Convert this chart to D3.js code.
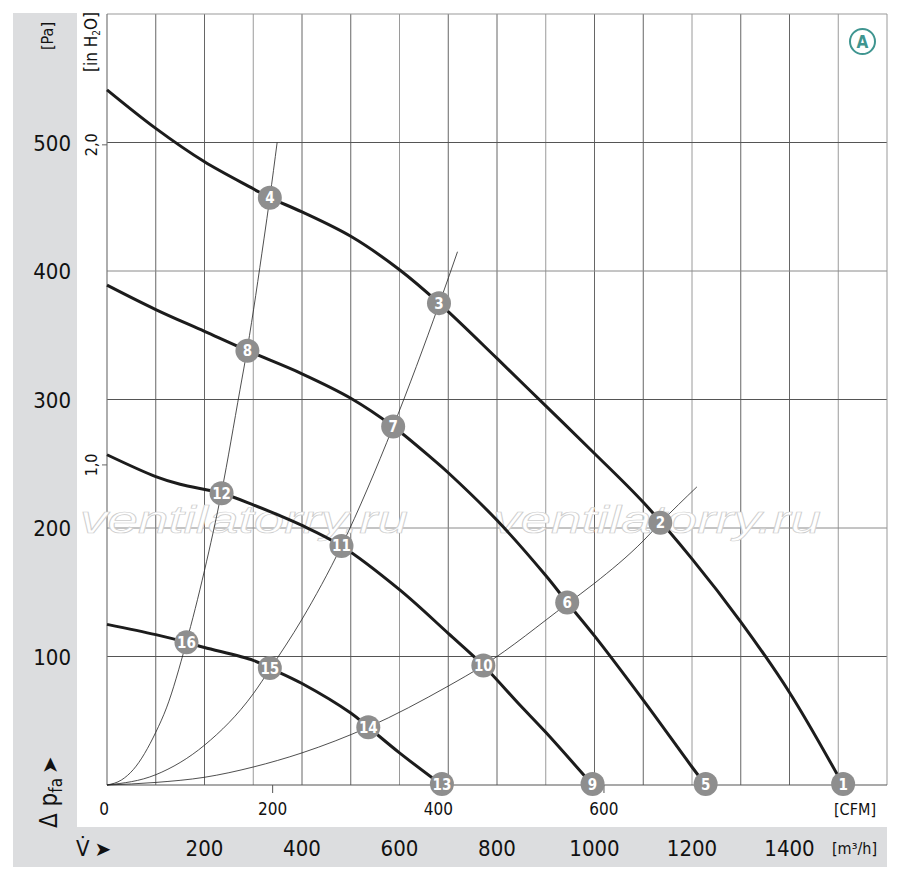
<!DOCTYPE html>
<html>
<head>
<meta charset="utf-8">
<script src="https://cdn.jsdelivr.net/npm/d3@7"></script>
<style>
  body { margin: 0; background: #fff; }
  svg text { font-family: "Liberation Sans Narrow", "DejaVu Sans Condensed", "Liberation Sans", sans-serif; }
</style>
</head>
<body>
<div id="chart"></div>
<script>
// fan curves, [m3/h, Pa]
var curve1 = [[0,541],[100,511],[200,485],[300,464],[334,457],[400,446],[500,427],[600,401],[681,375],[800,332],[900,295],[1000,258],[1100,220],[1200,176],[1300,127],[1400,72],[1510,0]];
var curve2 = [[0,389],[100,370],[200,353],[288,338],[400,320],[500,301],[587,279],[670,253],[700,243],[800,206],[900,163],[944,142],[1000,116],[1100,66],[1200,14],[1228,0]];
var curve3 = [[0,257],[100,240],[150,234],[235,227],[300,218],[400,202],[481,186],[600,152],[700,118],[772,93],[845,63],[900,41],[996,0]];
var curve4 = [[0,125],[100,117],[163,111],[200,107],[300,97],[334,91],[400,79],[500,56],[536,45],[600,25],[687,0]];

// system resistance curves
var sysA = [[0,0],[30,4],[54,12],[100,41],[122,60],[162,110],[200,167],[235,228],[273,308],[288,340],[322,425],[334,457],[349,500]];
var sysB = [[0,0],[100,8],[200,31],[300,71],[334,90],[400,129],[481,186],[587,279],[682,375],[719,415]];
var sysC = [[0,0],[100,2],[200,6],[300,14],[400,25],[536,45],[700,77],[772,93],[944,141],[1000,157],[1100,190],[1135,204],[1210,232]];

// numbered operating points
var pointIds = [1,2,3,4,5,6,7,8,9,10,11,12,13,14,15,16];
var pointFlow = [1510,1135,681,334,1228,944,587,288,996,772,481,235,687,536,334,163];
var pointPa   = [0,204,375,457,0,142,279,338,0,93,186,227,0,45,91,111];

var paTicks = [100,200,300,400,500];
var inchTicks = [1,2];
var inchLabels = ["1,0","2,0"];
var cfmTicks = [0,200,400,600];
var m3hTicks = [200,400,600,800,1000,1200,1400];

var W = 900, H = 877;
var svg = d3.select("#chart").append("svg").attr("width", W).attr("height", H);

var x = d3.scaleLinear().domain([0,1600]).range([107,887]);
var y = d3.scaleLinear().domain([0,600]).range([785,14]);
var xCfm = d3.scaleLinear().domain([0,1600/1.699]).range([107,887]);
var yIn = d3.scaleLinear().domain([0,600/249.09]).range([785,14]);

// grey bands
svg.append("rect").attr("x",13).attr("y",13).attr("width",64).attr("height",814).attr("fill","#dcdddf");
svg.append("rect").attr("x",13).attr("y",827).attr("width",874).attr("height",40).attr("fill","#dcdddf");

// grid
var grid = svg.append("g");
grid.selectAll(".vg").data(d3.range(100,1600,100)).enter().append("line")
    .attr("x1", d => x(d)).attr("x2", d => x(d))
    .attr("y1", y(600)).attr("y2", y(0))
    .attr("stroke", (d,i) => (i % 3 == 2) ? "#9a9a9a" : "#666")
    .attr("stroke-width", 1);
grid.selectAll(".hg").data(paTicks).enter().append("line")
    .attr("x1", x(0)).attr("x2", x(1600))
    .attr("y1", d => y(d)).attr("y2", d => y(d))
    .attr("stroke", (d,i) => (i % 2 == 1) ? "#8a8a8a" : "#555")
    .attr("stroke-width", 1);
// frame
grid.append("line").attr("x1",x(0)).attr("x2",x(1600)).attr("y1",y(600)).attr("y2",y(600)).attr("stroke","#999");
grid.append("line").attr("x1",x(1600)).attr("x2",x(1600)).attr("y1",y(600)).attr("y2",y(0)).attr("stroke","#999");
grid.append("line").attr("x1",x(0)).attr("x2",x(0)).attr("y1",y(600)).attr("y2",y(0)).attr("stroke","#777").attr("stroke-width",1.2);
grid.append("line").attr("x1",x(0)).attr("x2",x(1600)).attr("y1",y(0)).attr("y2",y(0)).attr("stroke","#555").attr("stroke-width",1.2);

// inch H2O ticks on left edge
grid.selectAll(".it").data(inchTicks).enter().append("line")
    .attr("x1", x(0)-5).attr("x2", x(0))
    .attr("y1", d => yIn(d)).attr("y2", d => yIn(d))
    .attr("stroke", "#666");
// CFM ticks below axis
grid.selectAll(".ct").data(cfmTicks.slice(1)).enter().append("line")
    .attr("x1", d => xCfm(d)).attr("x2", d => xCfm(d))
    .attr("y1", y(0)).attr("y2", y(0)+8)
    .attr("stroke", "#555");

// watermark
["ventilatorry.ru","ventilatorry.ru"].forEach(function(t, i){
    svg.append("text")
       .attr("x", i == 0 ? 80 : 493).attr("y", 533)
       .attr("textLength", 328).attr("lengthAdjust", "spacingAndGlyphs")
       .style("font-family", "'Liberation Sans', sans-serif")
       .style("font-style", "italic")
       .style("font-size", "38px")
       .attr("fill", "#fff").attr("stroke", "#cdcdcd").attr("stroke-width", 0.7)
       .text(t);
});

var fanLine = d3.line().x(d => x(d[0])).y(d => y(d[1])).curve(d3.curveCatmullRom.alpha(0.5));
var sysLine = d3.line().x(d => x(d[0])).y(d => y(d[1])).curve(d3.curveMonotoneX);

// system curves (thin)
[sysA, sysB, sysC].forEach(function(s){
    svg.append("path").attr("d", sysLine(s)).attr("fill","none")
       .attr("stroke","#222").attr("stroke-width",0.8);
});

// fan curves (thick)
[curve1, curve2, curve3, curve4].forEach(function(c){
    svg.append("path").attr("d", fanLine(c)).attr("fill","none")
       .attr("stroke","#1c1c1c").attr("stroke-width",3);
});

// numbered points
var pts = svg.selectAll(".pt").data(pointIds).enter().append("g")
    .attr("transform", (d,i) => "translate(" + x(pointFlow[i]) + "," + (y(pointPa[i]) - (pointPa[i] == 0 ? 1 : 0)) + ")");
pts.append("circle").attr("r", 12).attr("fill", "#8e8e8e");
pts.append("text").attr("text-anchor","middle").attr("y", 5.5)
   .attr("fill","#fff").style("font-size","15px").style("font-weight","bold")
   .text(d => d);

// Pa labels
svg.selectAll(".pal").data(paTicks).enter().append("text")
   .attr("x", 71).attr("y", d => y(d) + 8)
   .attr("text-anchor","end").style("font-size","22px")
   .attr("fill","#111").text(d => d);
svg.append("text").attr("transform","translate(53,36) rotate(-90)")
   .attr("text-anchor","middle").style("font-size","16px").attr("fill","#111").text("[Pa]");

// in H2O labels
svg.selectAll(".inl").data(inchTicks).enter().append("text")
   .attr("transform", d => "translate(97," + yIn(d) + ") rotate(-90)")
   .attr("text-anchor","middle").style("font-size","16px").attr("fill","#111")
   .text((d,i) => inchLabels[i]);
var inLab = svg.append("text").attr("transform","translate(97,72) rotate(-90)")
   .attr("text-anchor","start").style("font-size","17px").attr("fill","#111");
inLab.append("tspan").text("[in H");
inLab.append("tspan").attr("dy",3).style("font-size","10px").text("2");
inLab.append("tspan").attr("dy",-3).text("O]");

// delta p label
var dp = svg.append("text").attr("transform","translate(57,828) rotate(-90)")
   .style("font-size","24px").attr("fill","#111");
dp.append("tspan").text("Δ p");
dp.append("tspan").attr("dy",5).style("font-size","17px").text("fa");
dp.append("tspan").attr("dy",-5).attr("dx",4).style("font-family","'DejaVu Sans', sans-serif").style("font-size","21px").text("➤");

// CFM labels
svg.selectAll(".cfl").data(cfmTicks).enter().append("text")
   .attr("x", d => xCfm(d) - (d == 0 ? 3 : 0)).attr("y", 815)
   .attr("text-anchor","middle").style("font-size","17px").attr("fill","#111")
   .text(d => d);
svg.append("text").attr("x", 876).attr("y", 815).attr("text-anchor","end")
   .style("font-size","16px").attr("fill","#111").text("[CFM]");

// m3/h labels
svg.selectAll(".mhl").data(m3hTicks).enter().append("text")
   .attr("x", d => x(d)).attr("y", 856)
   .attr("text-anchor","middle").style("font-size","22px").attr("fill","#111")
   .text(d => d);
svg.append("text").attr("x", 877).attr("y", 854).attr("text-anchor","end")
   .style("font-size","16px").attr("fill","#111").text("[m³/h]");
var vl = svg.append("text").attr("x", 76).attr("y", 856).style("font-size","22px").attr("fill","#111");
vl.append("tspan").text("V̇");
vl.append("tspan").attr("dx",5).style("font-family","'DejaVu Sans', sans-serif").style("font-size","20px").text("➤");

// A badge
svg.append("circle").attr("cx",862.5).attr("cy",41.5).attr("r",12.5)
   .attr("fill","#fff").attr("stroke","#3f9590").attr("stroke-width",2);
svg.append("text").attr("x",862.5).attr("y",47.5).attr("text-anchor","middle")
   .style("font-size","17px").style("font-weight","bold").attr("fill","#3f9590").text("A");
</script>
</body>
</html>
